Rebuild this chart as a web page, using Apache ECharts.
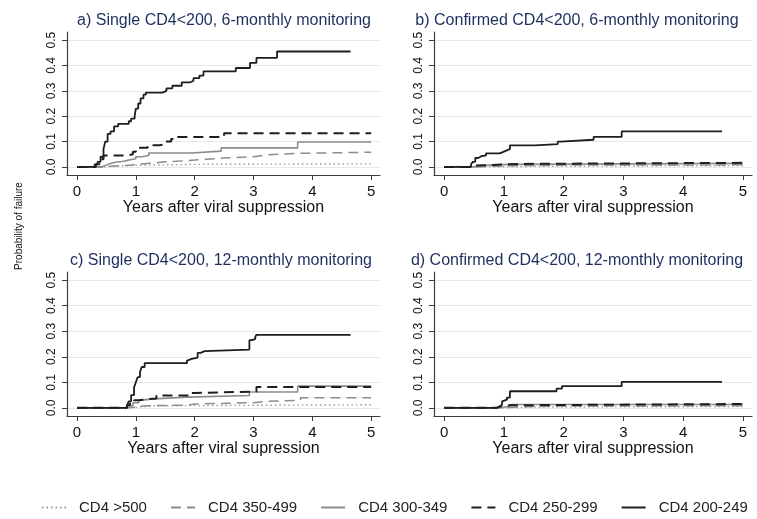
<!DOCTYPE html>
<html>
<head>
<meta charset="utf-8">
<script src="https://cdn.jsdelivr.net/npm/echarts@6/dist/echarts.min.js"></script>
<style>html,body{margin:0;padding:0;background:#fff}#c{width:757px;height:519px}</style>
</head>
<body>
<div id="c"></div>
<script>
// ---- data: [years after viral suppression, cumulative probability of failure] ----
const groups = ['CD4 >500', 'CD4 350-499', 'CD4 300-349', 'CD4 250-299', 'CD4 200-249'];
const panelTitles = [
  'a) Single CD4<200, 6-monthly monitoring',
  'b) Confirmed CD4<200, 6-monthly monitoring',
  'c) Single CD4<200, 12-monthly monitoring',
  'd) Confirmed CD4<200, 12-monthly monitoring'
];
const xTitles = [
  'Years after viral suppression',
  'Years after viral suppression',
  'Years after viral supression',
  'Years after viral suppression'
];
const xTicks = [0, 1, 2, 3, 4, 5];
const yTicks = [0, 0.1, 0.2, 0.3, 0.4, 0.5];
const yAxisTitle = 'Probability of failure';

// panel a
const A_500 = [[0,0],[0.5,0.003],[0.6,0.006],[1.0,0.008],[1.5,0.01],[2.0,0.012],[5.0,0.012]];
const A_350 = [[0,0],[0.45,0.003],[0.55,0.006],[0.9,0.01],[1.0,0.015],[1.3,0.02],[1.5,0.025],[1.9,0.03],[2.2,0.035],[2.5,0.04],[3.0,0.047],[3.2,0.053],[3.7,0.058],[5.0,0.058]];
const A_300 = [[0,0],[0.42,0.005],[0.48,0.012],[0.55,0.018],[0.65,0.022],[0.8,0.027],[0.88,0.032],[1.0,0.04],[1.1,0.045],[1.22,0.055],[1.95,0.062],[2.45,0.075],[3.75,0.098],[5.0,0.098]];
const A_250 = [[0,0],[0.32,0.01],[0.38,0.03],[0.45,0.045],[0.85,0.05],[0.95,0.06],[1.0,0.075],[1.2,0.085],[1.4,0.09],[1.5,0.1],[1.6,0.11],[1.65,0.118],[2.5,0.133],[5.0,0.133]];
const A_200 = [[0,0],[0.3,0.01],[0.35,0.02],[0.4,0.04],[0.45,0.07],[0.48,0.1],[0.52,0.13],[0.57,0.14],[0.63,0.16],[0.7,0.17],[0.88,0.18],[0.92,0.19],[0.98,0.2],[1.0,0.23],[1.04,0.25],[1.08,0.27],[1.13,0.285],[1.17,0.293],[1.45,0.3],[1.52,0.31],[1.62,0.32],[1.78,0.333],[1.92,0.34],[1.98,0.35],[2.08,0.36],[2.15,0.377],[2.7,0.39],[2.94,0.41],[3.05,0.43],[3.4,0.455],[4.65,0.455]];
// panel b
const B_500 = [[0,0],[0.7,0.002],[1.5,0.005],[5.0,0.005]];
const B_350 = [[0,0],[0.55,0.004],[1.0,0.007],[2.0,0.008],[5.0,0.008]];
const B_300 = [[0,0],[0.5,0.005],[0.6,0.01],[1.1,0.014],[5.0,0.014]];
const B_250 = [[0,0],[0.45,0.005],[0.52,0.01],[1.0,0.012],[1.5,0.016],[5.0,0.016]];
const B_200 = [[0,0],[0.45,0.01],[0.48,0.02],[0.52,0.035],[0.57,0.042],[0.62,0.045],[0.7,0.053],[0.93,0.058],[0.98,0.063],[1.03,0.07],[1.1,0.085],[1.52,0.09],[1.9,0.1],[1.95,0.107],[2.5,0.118],[2.97,0.14],[4.65,0.14]];
// panel c
const C_500 = [[0,0],[0.95,0.004],[1.1,0.008],[1.3,0.012],[5.0,0.012]];
const C_350 = [[0,0],[0.88,0.004],[1.0,0.008],[1.2,0.011],[1.9,0.015],[2.0,0.02],[3.0,0.025],[3.2,0.03],[3.8,0.039],[5.0,0.039]];
const C_300 = [[0,0],[0.85,0.008],[0.95,0.02],[1.05,0.03],[1.1,0.035],[1.3,0.042],[1.87,0.048],[2.93,0.062],[3.75,0.085],[5.0,0.085]];
const C_250 = [[0,0],[0.85,0.01],[0.9,0.02],[0.97,0.03],[1.05,0.037],[1.35,0.048],[1.9,0.058],[2.0,0.064],[3.05,0.082],[5.0,0.082]];
const C_200 = [[0,0],[0.85,0.01],[0.88,0.025],[0.92,0.05],[0.97,0.08],[1.0,0.1],[1.03,0.12],[1.07,0.14],[1.1,0.16],[1.15,0.175],[1.87,0.185],[1.9,0.192],[1.95,0.197],[2.05,0.215],[2.1,0.222],[2.17,0.228],[2.93,0.265],[2.98,0.27],[3.03,0.278],[3.05,0.286],[4.65,0.286]];
// panel d
const D_500 = [[0,0],[1.05,0.003],[1.5,0.005],[5.0,0.005]];
const D_350 = [[0,0],[0.95,0.004],[1.3,0.007],[2.0,0.008],[5.0,0.008]];
const D_300 = [[0,0],[0.92,0.005],[1.1,0.013],[5.0,0.013]];
const D_250 = [[0,0],[0.88,0.005],[0.93,0.01],[1.1,0.015],[5.0,0.015]];
const D_200 = [[0,0],[0.88,0.005],[0.92,0.012],[0.97,0.025],[1.0,0.032],[1.05,0.04],[1.1,0.065],[1.88,0.075],[1.97,0.085],[2.97,0.102],[4.65,0.102]];

const panelData = [
  [A_500, A_350, A_300, A_250, A_200],
  [B_500, B_350, B_300, B_250, B_200],
  [C_500, C_350, C_300, C_250, C_200],
  [D_500, D_350, D_300, D_250, D_200]
];

// ---- styles ----
const FONT = '"Liberation Sans", Arial, Helvetica, sans-serif';
const lineStyles = [
  {color: '#9a9a9a', width: 1.4, type: [1.5, 3]},
  {color: '#8c8c8c', width: 1.5, type: [10, 6]},
  {color: '#8c8c8c', width: 1.6, type: 'solid'},
  {color: '#1e1e1e', width: 2.0, type: [10, 6]},
  {color: '#1e1e1e', width: 1.8, type: 'solid'}
];
const grids = [
  {left: 67, top: 32, width: 313, height: 143},
  {left: 434, top: 32, width: 318, height: 143},
  {left: 67, top: 272, width: 313, height: 144},
  {left: 434, top: 272, width: 318, height: 144}
];
const titlePos = [
  {cx: 224, top: 13}, {cx: 577, top: 13}, {cx: 221, top: 253}, {cx: 577, top: 253}
];

const option = {
  animation: false,
  backgroundColor: '#fff',
  textStyle: {fontFamily: FONT},
  title: panelTitles.map((t, i) => ({
    text: t, left: titlePos[i].cx, top: titlePos[i].top, textAlign: 'center', padding: 0,
    textStyle: {fontFamily: FONT, fontSize: 16, fontWeight: 'normal', color: '#1e2f5f'}
  })),
  legend: {
    data: groups, left: 41, top: 500, width: 715, padding: 0, itemGap: 23, itemWidth: 24, itemHeight: 12,
    itemStyle: {opacity: 0},
    textStyle: {fontFamily: FONT, fontSize: 15, color: '#222', padding: [0, 0, 0, 8]}
  },
  graphic: [{
    type: 'text', x: 19, y: 226, rotation: Math.PI / 2,
    style: {text: yAxisTitle, font: '10px ' + FONT, fill: '#111', align: 'center', verticalAlign: 'middle'}
  }],
  grid: grids,
  xAxis: grids.map((g, i) => ({
    type: 'value', gridIndex: i, min: -0.17, max: 5.15,
    name: xTitles[i], nameLocation: 'middle', nameGap: 24,
    nameTextStyle: {fontFamily: FONT, fontSize: 16, color: '#111'},
    axisLine: {show: true, onZero: false, lineStyle: {color: '#3c3c3c', width: 1.2}},
    axisTick: {show: true, length: 5, customValues: xTicks, lineStyle: {color: '#3c3c3c'}},
    axisLabel: {customValues: xTicks, margin: 9, fontFamily: FONT, fontSize: 15, color: '#111',
      formatter: v => String(Math.round(v))},
    splitLine: {show: false}
  })),
  yAxis: grids.map((g, i) => ({
    type: 'value', gridIndex: i, min: -0.032, max: 0.532,
    axisLine: {show: true, onZero: false, lineStyle: {color: '#3c3c3c', width: 1.2}},
    axisTick: {show: true, length: 5, customValues: yTicks, lineStyle: {color: '#3c3c3c'}},
    axisLabel: {customValues: yTicks, rotate: 90, margin: 9, fontFamily: FONT, fontSize: 12, color: '#111',
      formatter: v => v.toFixed(1)},
    splitLine: {show: true, lineStyle: {color: '#e1eaec', width: 1}}
  })),
  series: []
};

panelData.forEach((arr, p) => {
  arr.forEach((d, g) => {
    option.series.push({
      type: 'line', name: groups[g], xAxisIndex: p, yAxisIndex: p,
      data: d, step: 'end', symbol: 'none', showSymbol: false,
      lineStyle: lineStyles[g], itemStyle: {color: lineStyles[g].color},
      emphasis: {disabled: true}, z: 2 + g
    });
  });
});

const chart = echarts.init(document.getElementById('c'), null, {renderer: 'canvas'});
chart.setOption(option);
</script>
</body>
</html>
